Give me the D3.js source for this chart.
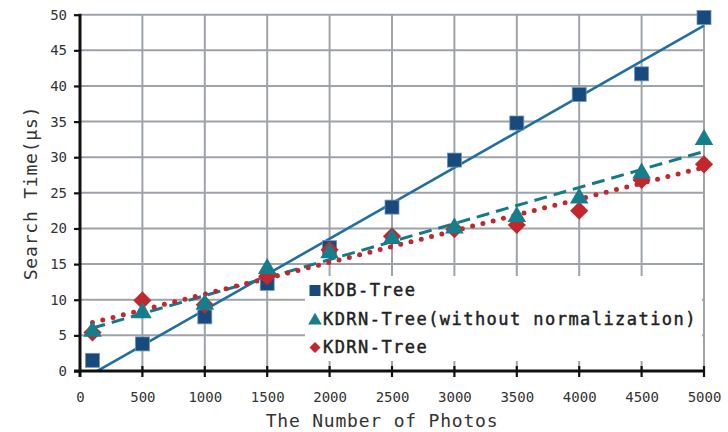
<!DOCTYPE html>
<html><head><meta charset="utf-8">
<script src="https://cdn.jsdelivr.net/npm/d3@7"></script>
<style>
body{margin:0;background:#fff;}
svg{display:block;}
</style></head>
<body>
<svg id="chart" width="728" height="432"></svg>
<script>
const photos = [100, 500, 1000, 1500, 2000, 2500, 3000, 3500, 4000, 4500, 5000];
const kdbTree = [1.5, 3.8, 7.6, 12.3, 17.3, 23.0, 29.6, 34.8, 38.8, 41.7, 49.6];
const kdrnNoNorm = [5.7, 8.3, 9.5, 14.5, 16.7, 18.7, 20.2, 21.8, 24.4, 27.9, 32.6];
const kdrnTree = [5.4, 9.9, 9.3, 13.3, 17.0, 18.9, 19.9, 20.5, 22.5, 26.8, 29.0];
const xTicks = [0, 500, 1000, 1500, 2000, 2500, 3000, 3500, 4000, 4500, 5000];
const yTicks = [0, 5, 10, 15, 20, 25, 30, 35, 40, 45, 50];
const seriesNames = ["KDB-Tree", "KDRN-Tree(without normalization)", "KDRN-Tree"];

const svg = d3.select("#chart");
const L = 80, R = 704, T = 14.7, B = 371;
const x = d3.scaleLinear().domain([0, 5000]).range([L, R]);
const y = d3.scaleLinear().domain([0, 50]).range([B, T]);
const mono = "'DejaVu Sans Mono', 'Liberation Mono', monospace";
const gridC = "#9ea3a9";

// grid
svg.append("g").selectAll("line").data(xTicks.slice(1)).join("line")
  .attr("x1", d => x(d)).attr("x2", d => x(d)).attr("y1", T).attr("y2", B)
  .attr("stroke", gridC).attr("stroke-width", 2);
svg.append("g").selectAll("line").data(yTicks.slice(1)).join("line")
  .attr("x1", L).attr("x2", R).attr("y1", d => y(d)).attr("y2", d => y(d))
  .attr("stroke", gridC).attr("stroke-width", 2);

// regression
function fit(xs, ys) {
  const mx = d3.mean(xs), my = d3.mean(ys);
  let sxy = 0, sxx = 0;
  xs.forEach((v, i) => { sxy += (v - mx) * (ys[i] - my); sxx += (v - mx) ** 2; });
  const b = sxy / sxx, a = my - b * mx;
  return v => a + b * v;
}
svg.append("defs").append("clipPath").attr("id", "clip")
  .append("rect").attr("x", L).attr("y", T - 2).attr("width", R - L + 2).attr("height", B - T + 2);
const ext = d3.extent(photos);
const lineGen = d3.line().x(d => x(d[0])).y(d => y(d[1]));
const trends = [
  {ys: kdbTree, color: "#1f6fa3", w: 2.6, dash: null, cap: "butt"},
  {ys: kdrnNoNorm, color: "#137a86", w: 3, dash: "13 7", cap: "butt"},
  {ys: kdrnTree, color: "#c3272e", w: 5, dash: "0 10.6", cap: "round"}
];
const tg = svg.append("g").attr("clip-path", "url(#clip)");
trends.forEach(t => {
  const f = fit(photos, t.ys);
  tg.append("path").datum([[ext[0], f(ext[0])], [ext[1], f(ext[1])]])
    .attr("d", lineGen).attr("fill", "none").attr("stroke", t.color)
    .attr("stroke-width", t.w).attr("stroke-linecap", t.cap)
    .attr("stroke-dasharray", t.dash);
});

// axes
const xAxis = svg.append("g").attr("transform", `translate(0,${B})`)
  .call(d3.axisBottom(x).tickValues(xTicks).tickFormat(d3.format("d")).tickSize(0).tickPadding(21));
xAxis.select(".domain").remove();
xAxis.selectAll("text").attr("font-family", mono).attr("font-size", 14).attr("fill", "#333");
svg.append("g").selectAll("line").data(xTicks.slice(1)).join("line")
  .attr("x1", d => x(d)).attr("x2", d => x(d)).attr("y1", B - 5).attr("y2", B + 6)
  .attr("stroke", "#111").attr("stroke-width", 2.2);

const yAxis = svg.append("g").attr("transform", `translate(${L},0)`)
  .call(d3.axisLeft(y).tickValues(yTicks).tickFormat(d3.format("d")).tickSize(6).tickPadding(7));
yAxis.select(".domain").remove();
yAxis.selectAll("line").attr("stroke", "#111").attr("stroke-width", 2.2);
yAxis.selectAll("text").attr("font-family", mono).attr("font-size", 14).attr("fill", "#333");

svg.append("line").attr("x1", L).attr("x2", L).attr("y1", T - 1).attr("y2", B + 6)
  .attr("stroke", "#111").attr("stroke-width", 3);
svg.append("line").attr("x1", L - 6).attr("x2", R + 1).attr("y1", B).attr("y2", B)
  .attr("stroke", "#111").attr("stroke-width", 3);

// markers
svg.append("g").selectAll("rect").data(photos).join("rect")
  .attr("x", (d) => x(d) - 7).attr("y", (d, i) => y(kdbTree[i]) - 7)
  .attr("width", 14).attr("height", 14)
  .attr("fill", "#184a7e").attr("stroke", "#6f94b9").attr("stroke-width", 0.8);
svg.append("g").selectAll("path").data(photos).join("path")
  .attr("d", d3.symbol().type(d3.symbolSquare).size(165))
  .attr("transform", (d, i) => `translate(${x(d)},${y(kdrnTree[i])}) rotate(45)`)
  .attr("fill", "#c3272e");
const tri = d3.symbol().type(d3.symbolTriangle).size(150);
svg.append("g").selectAll("path").data(photos).join("path")
  .attr("transform", (d, i) => `translate(${x(d)},${y(kdrnNoNorm[i]) + 1})`)
  .attr("d", tri).attr("fill", "#167e8a");

// legend
const lg = svg.append("g");
lg.append("rect").attr("x", 305).attr("y", 276).attr("width", 397).attr("height", 85).attr("fill", "#fff");
const legY = [296, 325, 353];
const legColors = ["#184a7e", "#167e8a", "#c3272e"];
seriesNames.forEach((n, i) => {
  const cx = 315, cy = legY[i] - 5.5;
  if (i === 0) lg.append("rect").attr("x", cx - 5.5).attr("y", cy - 5.5).attr("width", 11).attr("height", 11).attr("fill", legColors[i]);
  if (i === 1) lg.append("path").attr("transform", `translate(${cx},${cy + 1})`).attr("d", d3.symbol().type(d3.symbolTriangle).size(80)).attr("fill", legColors[i]);
  if (i === 2) lg.append("path").attr("transform", `translate(${cx},${cy}) rotate(45)`).attr("d", d3.symbol().type(d3.symbolSquare).size(60)).attr("fill", legColors[i]);
  lg.append("text").attr("x", 323).attr("y", legY[i]).text(n)
    .attr("font-family", mono).attr("font-size", 17)
    .attr("stroke", "#222").attr("stroke-width", 0.45)
    .attr("letter-spacing", 1.45).attr("fill", "#222");
});

// titles
svg.append("text").attr("x", 382).attr("y", 427).attr("text-anchor", "middle")
  .attr("font-family", mono).attr("font-size", 18).attr("letter-spacing", 0.8).attr("fill", "#333")
  .text("The Number of Photos");
svg.append("text").attr("transform", "translate(37,193) rotate(-90)").attr("text-anchor", "middle")
  .attr("font-family", mono).attr("font-size", 18).attr("letter-spacing", 0.8).attr("fill", "#333")
  .text("Search Time(μs)");
</script>
</body></html>
